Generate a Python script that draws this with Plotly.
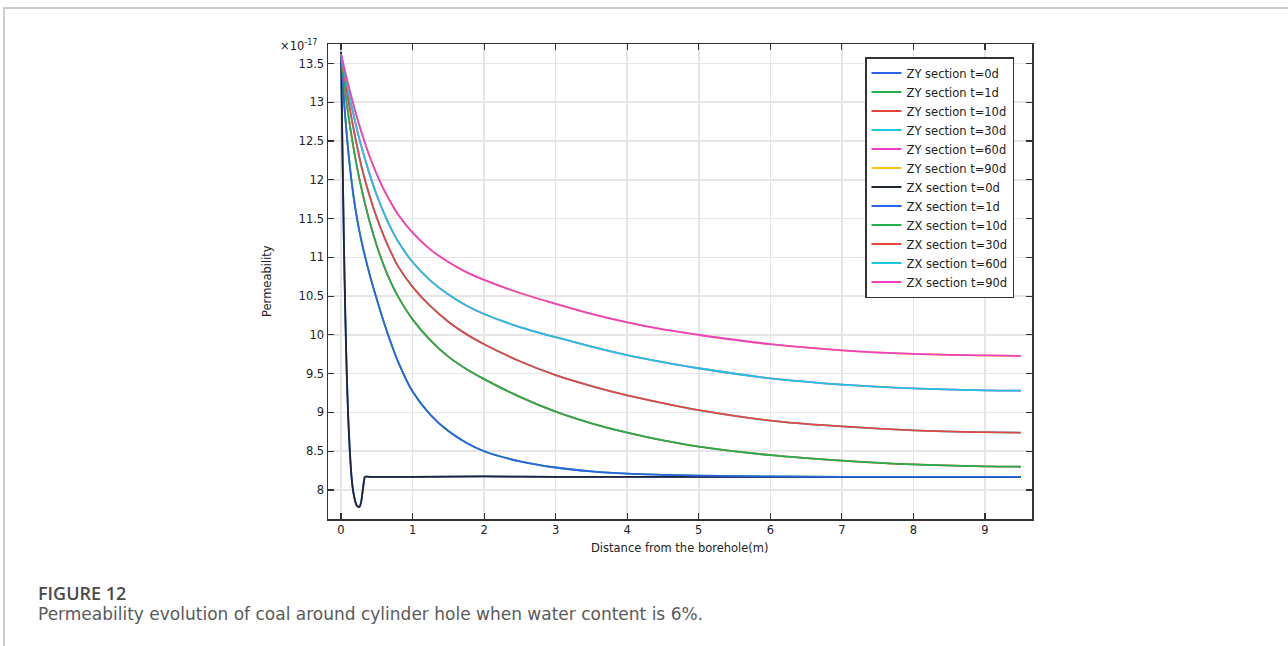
import plotly.graph_objects as go

# ---------------- data ----------------
x_t0 = [0, 0.02, 0.04, 0.06, 0.08, 0.10, 0.12, 0.14, 0.16, 0.18, 0.20, 0.22, 0.24, 0.256,
        0.28, 0.30, 0.32, 0.335, 0.4, 1, 2, 3, 4, 5, 6, 7, 8, 9, 9.5]
perm_t0 = [13.65, 12.4, 11.2, 10.25, 9.5, 8.95, 8.55, 8.25, 8.05, 7.93, 7.85, 7.80, 7.785, 7.78,
           7.84, 7.97, 8.11, 8.17, 8.17, 8.17, 8.175, 8.17, 8.17, 8.17, 8.17, 8.17, 8.17, 8.17, 8.17]

x_dist = [0, 0.05, 0.1, 0.15, 0.2, 0.25, 0.3, 0.4, 0.5, 0.6, 0.7, 0.8, 1.0, 1.25, 1.5, 1.75,
          2, 2.5, 3, 3.5, 4, 4.5, 5, 6, 7, 8, 9, 9.5]
perm_t1 = [13.62, 12.92, 12.38, 11.96, 11.63, 11.37, 11.15, 10.78, 10.46, 10.16, 9.89, 9.65, 9.27,
           8.97, 8.76, 8.61, 8.50, 8.37, 8.29, 8.24, 8.21, 8.195, 8.185, 8.175, 8.17, 8.17, 8.17, 8.17]
perm_t10 = [13.62, 13.2, 12.85, 12.55, 12.28, 12.04, 11.83, 11.46, 11.15, 10.89, 10.67, 10.49, 10.20,
            9.93, 9.72, 9.56, 9.43, 9.20, 9.01, 8.86, 8.74, 8.64, 8.56, 8.45, 8.38, 8.33, 8.305, 8.30]
perm_t30 = [13.62, 13.32, 13.04, 12.78, 12.54, 12.32, 12.12, 11.79, 11.51, 11.27, 11.06, 10.88, 10.62,
            10.37, 10.17, 10.01, 9.88, 9.66, 9.48, 9.34, 9.22, 9.12, 9.03, 8.895, 8.82, 8.77, 8.745, 8.74]
perm_t60 = [13.62, 13.38, 13.15, 12.94, 12.74, 12.55, 12.38, 12.07, 11.80, 11.57, 11.37, 11.20, 10.94,
            10.70, 10.52, 10.38, 10.27, 10.10, 9.97, 9.85, 9.74, 9.65, 9.57, 9.44, 9.36, 9.31, 9.285, 9.28]
perm_t90 = [13.62, 13.42, 13.23, 13.05, 12.88, 12.72, 12.57, 12.30, 12.07, 11.87, 11.70, 11.55, 11.32,
            11.10, 10.94, 10.81, 10.71, 10.54, 10.40, 10.27, 10.16, 10.07, 10.0, 9.88, 9.80, 9.755, 9.735, 9.73]

times = ["0d", "1d", "10d", "30d", "60d", "90d"]
series_x = [x_t0, x_dist, x_dist, x_dist, x_dist, x_dist]
series_y = [perm_t0, perm_t1, perm_t10, perm_t30, perm_t60, perm_t90]

zy_colors = ["#2b63e8", "#22b14c", "#e8453f", "#1cc6e0", "#ee3fc8", "#ffc21a"]
zx_colors = ["#1f2535", "#2b63e8", "#22b14c", "#e8453f", "#1cc6e0", "#ee3fc8"]

x_ticks = [0, 1, 2, 3, 4, 5, 6, 7, 8, 9]
y_ticks = [8, 8.5, 9, 9.5, 10, 10.5, 11, 11.5, 12, 12.5, 13, 13.5]

# ---------------- figure ----------------
FONT = "DejaVu Sans"
fig = go.Figure()
for sec, cols in (("ZY", zy_colors), ("ZX", zx_colors)):
    for i, t in enumerate(times):
        fig.add_trace(go.Scatter(
            x=series_x[i], y=series_y[i], mode="lines",
            name=f"{sec} section t={t}",
            line=dict(color=cols[i], width=1.8, shape="spline",
                      smoothing=0.6 if i == 0 else 1.0),
        ))

W, H = 1288, 646
L, R, T, B = 328, 1032, 44, 519

def px(p):
    return (p - L) / (R - L)

def py(q):
    return (B - q) / (B - T)

axis_common = dict(
    showline=True, linecolor="#333333", linewidth=1.5, mirror="ticks",
    ticks="inside", ticklen=6, tickwidth=1.2, tickcolor="#333333",
    showgrid=True, gridcolor="#e6e6e6", gridwidth=1.5, zeroline=False,
    tickfont=dict(family=FONT, size=11.5, color="#222222"),
)

fig.update_layout(
    width=W, height=H,
    margin=dict(l=L, r=W - R, t=T, b=H - B, autoexpand=False),
    paper_bgcolor="white", plot_bgcolor="white",
    showlegend=True,
    legend=dict(
        x=px(865), y=py(57), xanchor="left", yanchor="top",
        bgcolor="white", bordercolor="#333333", borderwidth=1.5,
        font=dict(family=FONT, size=11.5, color="#222222"),
        itemwidth=30, tracegroupgap=0,
    ),
    xaxis=dict(range=[-0.182, 9.657], tickvals=x_ticks, **axis_common),
    yaxis=dict(range=[7.626, 13.751], tickvals=y_ticks, **axis_common),
    hovermode=False,
)

fig.add_shape(type="rect", xref="paper", yref="paper",
              x0=px(4), x1=px(1300), y0=py(670), y1=py(8),
              line=dict(color="#bdbdbd", width=1.5), fillcolor="rgba(0,0,0,0)", layer="below")

fig.add_annotation(text="Distance from the borehole(m)", xref="paper", yref="paper",
                   x=px(680), y=py(548), xanchor="center", yanchor="middle", showarrow=False,
                   font=dict(family=FONT, size=11.5, color="#222222"))
fig.add_annotation(text="Permeability", xref="paper", yref="paper", textangle=-90,
                   x=px(267), y=py(281), xanchor="center", yanchor="middle", showarrow=False,
                   font=dict(family=FONT, size=11.5, color="#222222"))
fig.add_annotation(text="×10<sup>-17</sup>", xref="paper", yref="paper",
                   x=px(319), y=py(46), xanchor="right", yanchor="middle", showarrow=False,
                   font=dict(family=FONT, size=11.5, color="#222222"))
fig.add_annotation(text="FIGURE 12", xref="paper", yref="paper",
                   x=px(36), y=py(593), xanchor="left", yanchor="middle", showarrow=False,
                   font=dict(family="Open Sans", size=18, color="#4a4a4a", weight=600))
fig.add_annotation(text="Permeability evolution of coal around cylinder hole when water content is 6%.",
                   xref="paper", yref="paper",
                   x=px(36), y=py(614), xanchor="left", yanchor="middle", showarrow=False,
                   font=dict(family=FONT, size=17, color="#5a5a5a"))

fig.write_html("out.html",
               config={"displayModeBar": False, "staticPlot": True},
               post_script="document.body.style.margin='0';document.body.style.overflow='hidden';")
